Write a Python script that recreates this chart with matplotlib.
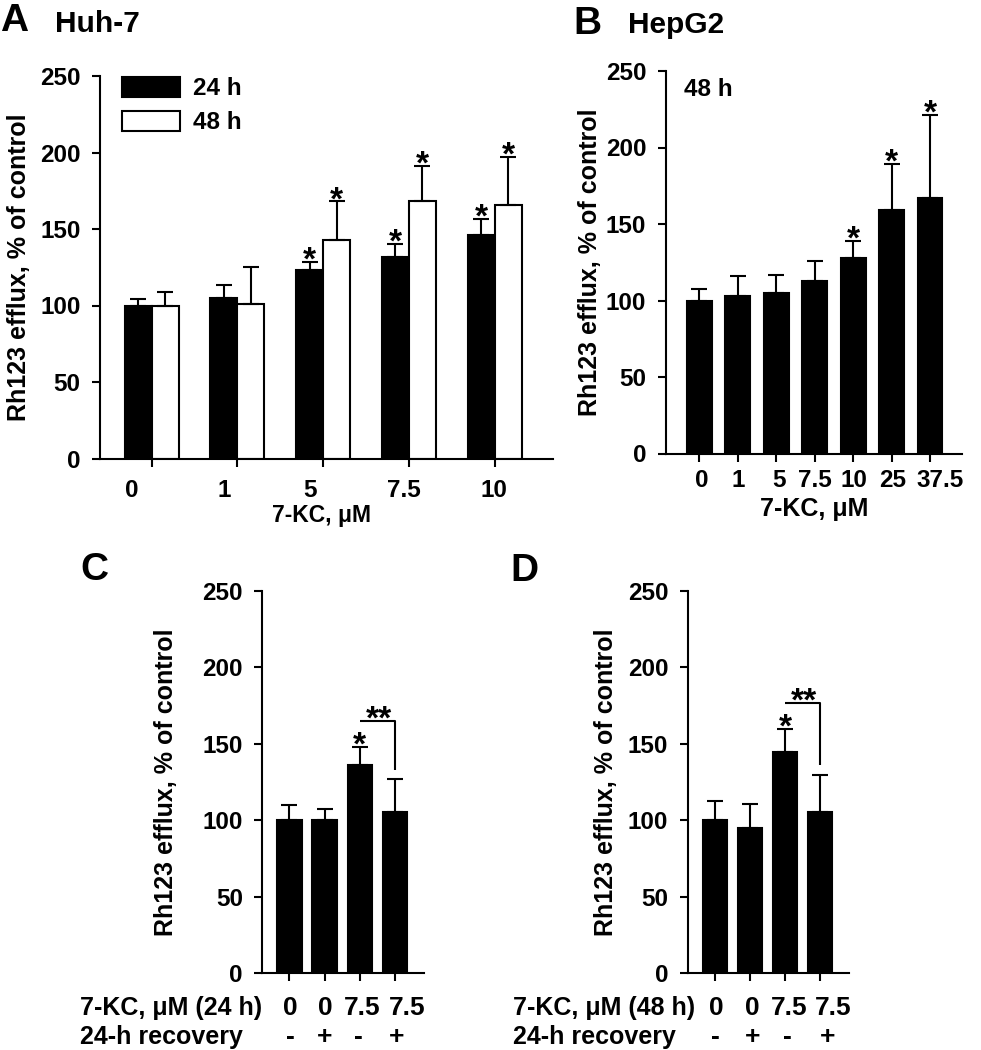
import numpy as np
import matplotlib
matplotlib.use('Agg')
import matplotlib.pyplot as plt
import matplotlib.transforms as mtransforms
from matplotlib.patches import Patch

plt.rcParams['font.family'] = ['Liberation Sans', 'DejaVu Sans']
plt.rcParams['font.weight'] = 'bold'
plt.rcParams['axes.labelweight'] = 'bold'

# ---- data ----
# A: Huh-7, 24 h / 48 h
conc_a = ['0', '1', '5', '7.5', '10']
a24_mean = [100, 105, 123, 132, 146]
a24_err = [4, 8.5, 5.5, 8.5, 10.5]
a48_mean = [100, 101, 143, 168, 166]
a48_err = [8.5, 24, 25, 23.5, 31]
a24_star = [False, False, True, True, True]
a48_star = [False, False, True, True, True]

# B: HepG2, 48 h
conc_b = ['0', '1', '5', '7.5', '10', '25', '37.5']
b_mean = [100, 103, 105, 113, 128, 159, 167]
b_err = [7.5, 13, 11.5, 12.5, 11, 30.5, 54.5]
b_star = [False, False, False, False, True, True, True]

# C / D: recovery experiments
kc_rows = ['0', '0', '7.5', '7.5']
recov_rows = ['-', '+', '-', '+']
c_mean = [100, 100, 136, 105.5]
c_err = [10, 7.5, 12, 21.5]
d_mean = [100, 95, 144.5, 105.5]
d_err = [13, 16, 15.5, 24]
cd_star = [False, False, True, False]
c_bracket = (165, 133)   # level of ** bar, bottom of right leg
d_bracket = (177, 136)

W, H = 981, 1050
LW = 1.5
TICK_FS = 17.5
STAR_FS = 24


def px_axes(left, top, right, bottom):
    return [left / W, 1 - bottom / H, (right - left) / W, (bottom - top) / H]


def style_axes(ax, xlim):
    ax.set_xlim(*xlim)
    ax.set_ylim(0, 250)
    ax.set_yticks([0, 50, 100, 150, 200, 250])
    for s in ('top', 'right'):
        ax.spines[s].set_visible(False)
    for s in ('left', 'bottom'):
        ax.spines[s].set_linewidth(LW)
    ax.tick_params(axis='both', which='major', direction='out', length=6,
                   width=LW, labelsize=TICK_FS, pad=8)
    ax.set_ylabel('Rh123 efflux, % of control', fontsize=18)


def stars(ax, xs, tops, flags):
    for x, t, f in zip(xs, tops, flags):
        if f:
            ax.text(x, t - 5, '*', ha='center', va='baseline', fontsize=STAR_FS)


def under_labels(ax, xs, labels, yfrac, size):
    trans = mtransforms.blended_transform_factory(ax.transData, ax.transAxes)
    for xi, lab in zip(xs, labels):
        ax.text(xi, yfrac, lab, transform=trans, ha='center', va='top',
                fontsize=size)


fig = plt.figure(figsize=(W / 100, H / 100), dpi=100)

# ---------------- A ----------------
ax = fig.add_axes(px_axes(100, 76, 553, 458.5))
x = np.arange(len(conc_a))
w = 0.315
ax.bar(x - w / 2, a24_mean, w, color='black', edgecolor='black', linewidth=LW)
ax.bar(x + w / 2, a48_mean, w, color='white', edgecolor='black', linewidth=LW)
ax.errorbar(x - w / 2, a24_mean, yerr=[np.zeros(len(x)), a24_err], fmt='none',
            ecolor='black', elinewidth=LW, capsize=6, capthick=LW)
ax.errorbar(x + w / 2, a48_mean, yerr=[np.zeros(len(x)), a48_err], fmt='none',
            ecolor='black', elinewidth=LW, capsize=6, capthick=LW)
style_axes(ax, (-0.603, 4.68))
ax.set_xticks(x, [''] * len(x))
under_labels(ax, x + np.array([-0.23, -0.15, -0.15, -0.06, -0.01]), conc_a,
             -0.054, TICK_FS)
stars(ax, x - w / 2, np.add(a24_mean, a24_err), a24_star)
stars(ax, x + w / 2, np.add(a48_mean, a48_err), a48_star)
ax.set_xlabel('7-KC, \u03bcM', fontsize=16.5)
ax.xaxis.set_label_coords(0.489, -0.118)
ax.yaxis.set_label_coords(-0.153, 0.5)
ax.legend(handles=[Patch(facecolor='black', edgecolor='black', linewidth=LW),
                   Patch(facecolor='white', edgecolor='black', linewidth=LW)],
          labels=['24 h', '48 h'], loc='upper left', bbox_to_anchor=(0.048, 0.997),
          frameon=False, borderpad=0, borderaxespad=0, handlelength=2.4,
          handleheight=0.85, handletextpad=0.55, labelspacing=0.45,
          prop=dict(weight='bold', size=TICK_FS))

# ---------------- B ----------------
ax = fig.add_axes(px_axes(665.7, 71, 961.7, 453.5))
x = np.arange(len(conc_b))
ax.bar(x, b_mean, 0.64, color='black', edgecolor='black', linewidth=LW)
ax.errorbar(x, b_mean, yerr=[np.zeros(len(x)), b_err], fmt='none',
            ecolor='black', elinewidth=LW, capsize=6, capthick=LW)
style_axes(ax, (-0.874, 6.82))
ax.set_xticks(x, [''] * len(x))
under_labels(ax, x + np.array([0.06, 0, 0.06, 0, 0.03, 0.02, 0.27]), conc_b,
             -0.041, TICK_FS)
stars(ax, x, np.add(b_mean, b_err), b_star)
ax.set_xlabel('7-KC, \u03bcM', fontsize=18)
ax.xaxis.set_label_coords(0.5, -0.113)
ax.yaxis.set_label_coords(-0.216, 0.5)
ax.text(0.062, 0.983, '48 h', transform=ax.transAxes, ha='left', va='top',
        fontsize=TICK_FS)

# ---------------- C / D ----------------
panels = [
    (px_axes(262.3, 591, 424, 973.3), c_mean, c_err, c_bracket, (-0.767, 3.82),
     '7-KC, \u03bcM (24 h)', -1.127, -0.52,
     [0.02, 1.01, 2.08, 3.35], [0.02, 1.0, 1.95, 3.05]),
    (px_axes(687.7, 591, 849, 973.3), d_mean, d_err, d_bracket, (-0.78, 3.83),
     '7-KC, \u03bcM (48 h)', -1.081, -0.43,
     [0.03, 1.07, 2.11, 3.38], [0.0, 1.07, 2.07, 3.21]),
]
for rect, mean, err, bracket, xlim, row1, row_x, ylab_x, r1x, r2x in panels:
    ax = fig.add_axes(rect)
    x = np.arange(len(mean))
    ax.bar(x, mean, 0.70, color='black', edgecolor='black', linewidth=LW)
    ax.errorbar(x, mean, yerr=[np.zeros(len(x)), err], fmt='none',
                ecolor='black', elinewidth=LW, capsize=6, capthick=LW)
    style_axes(ax, xlim)
    ax.set_xticks(x, [''] * len(x))
    ax.yaxis.set_label_coords(ylab_x, 0.5)
    stars(ax, x, np.add(mean, err), cd_star)
    # ** bracket between 7.5 (-) and 7.5 (+)
    ax.plot([x[2], x[3], x[3]], [bracket[0], bracket[0], bracket[1]],
            color='black', lw=LW, solid_capstyle='butt')
    ax.text((x[2] + x[3]) / 2 + 0.05, bracket[0] - 5, '**', ha='center',
            va='baseline', fontsize=STAR_FS)
    trans = mtransforms.blended_transform_factory(ax.transData, ax.transAxes)
    for xi, lab in zip(r1x, kc_rows):
        ax.text(xi, -0.109, lab, transform=trans, ha='center', va='baseline',
                fontsize=19)
    for xi, lab in zip(r2x, recov_rows):
        ax.text(xi, -0.185, lab, transform=trans, ha='center', va='baseline',
                fontsize=19)
    ax.text(row_x, -0.109, row1, transform=ax.transAxes, ha='left',
            va='baseline', fontsize=18)
    ax.text(row_x, -0.185, '24-h recovery', transform=ax.transAxes, ha='left',
            va='baseline', fontsize=18)

# panel letters and titles
for xp, yp, txt, size in [(0, 3, 'A', 28), (55, 10, 'Huh-7', 21.5),
                          (573, 6, 'B', 28), (628, 11, 'HepG2', 21.5),
                          (80, 552, 'C', 28), (510, 553, 'D', 28)]:
    fig.text(xp / W, 1 - yp / H, txt, ha='left', va='top', fontsize=size)

fig.savefig('out.png', dpi=100)
